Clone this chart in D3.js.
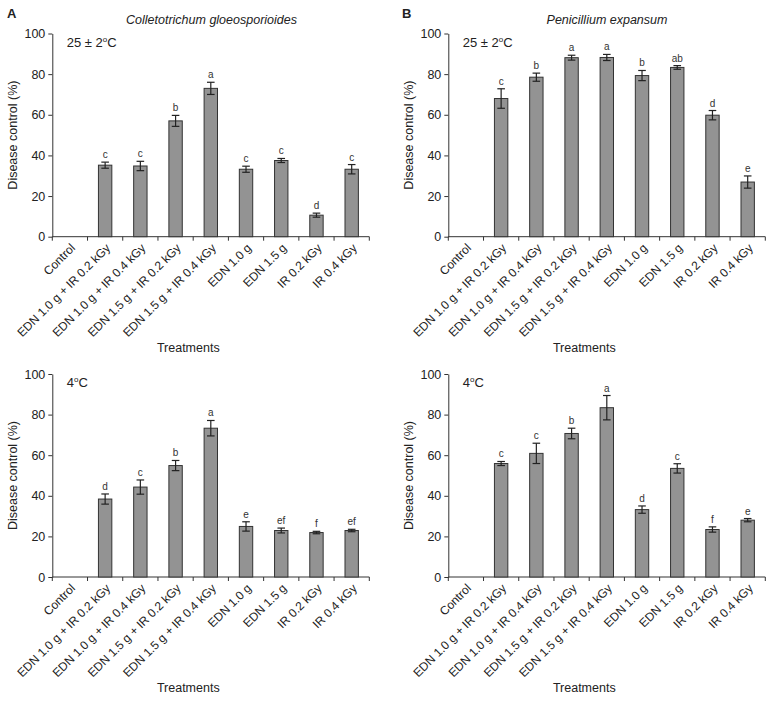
<!DOCTYPE html>
<html><head><meta charset="utf-8">
<script src="https://cdn.jsdelivr.net/npm/d3@7"></script>
<style>
body{margin:0;background:#fff;}
svg{display:block;font-family:"Liberation Sans",Arial,Helvetica,sans-serif;}
</style></head>
<body>
<svg id="chart" width="772" height="701"></svg>
<script>
const categories = ["Control","EDN 1.0 g + IR 0.2 kGy","EDN 1.0 g + IR 0.4 kGy","EDN 1.5 g + IR 0.2 kGy","EDN 1.5 g + IR 0.4 kGy","EDN 1.0 g","EDN 1.5 g","IR 0.2 kGy","IR 0.4 kGy"];
const yTicks = [0,20,40,60,80,100];

const colleto25 = [0,35.2,34.8,57.0,73.0,33.2,37.5,10.6,33.2];
const colleto25Err = [0,1.5,2.3,2.7,3.0,1.5,1.0,1.0,2.3];
const colleto25Letters = ["","c","c","b","a","c","c","d","c"];

const penic25 = [0,68.0,78.5,88.1,88.2,79.3,83.3,59.8,26.9];
const penic25Err = [0,4.8,2.0,1.2,1.5,2.5,0.9,2.3,3.0];
const penic25Letters = ["","c","b","a","a","b","ab","d","e"];

const colleto4 = [0,38.4,44.3,54.9,73.3,24.9,22.9,21.9,22.9];
const colleto4Err = [0,2.5,3.5,2.5,3.8,2.3,1.2,0.6,0.6];
const colleto4Letters = ["","d","c","b","a","e","ef","f","ef"];

const penic4 = [0,55.9,60.9,70.7,83.4,33.2,53.5,23.4,28.0];
const penic4Err = [0,1.0,5.0,2.6,6.0,1.8,2.3,1.3,0.8];
const penic4Letters = ["","c","c","b","a","d","c","f","e"];

const svg = d3.select("#chart");

function panel(opts){
  const {x0, yTop, yBottom, values, errs, letters, temp} = opts;
  const g = svg.append("g");
  const x = d3.scaleBand().domain(categories).range([x0, x0 + 317])
    .paddingInner(0.62).paddingOuter(0.31);
  const y = d3.scaleLinear().domain([0,100]).range([yBottom, yTop]);

  // y axis
  const yAxis = g.append("g").attr("transform", `translate(${x0},0)`)
    .call(d3.axisLeft(y).tickValues(yTicks).tickSize(4).tickPadding(3).tickSizeOuter(0));
  yAxis.select(".domain").attr("stroke","#333");
  yAxis.selectAll(".tick line").attr("stroke","#333");
  yAxis.selectAll(".tick text").attr("font-size", 12.5).attr("fill","#222")
    .attr("font-family","Liberation Sans, Arial, sans-serif");

  // x axis line + boundary ticks
  g.append("line").attr("x1", x0).attr("x2", x0 + 317).attr("y1", yBottom).attr("y2", yBottom)
    .attr("stroke","#333");
  const bounds = d3.range(categories.length + 1).map(i => x0 + i * x.step());
  g.selectAll(".xt").data(bounds).join("line")
    .attr("x1", d => d).attr("x2", d => d).attr("y1", yBottom).attr("y2", yBottom + 4)
    .attr("stroke","#333");
  g.selectAll(".xl").data(categories).join("text")
    .attr("transform", d => `translate(${x(d) + x.bandwidth()/2 + 3},${yBottom + 9}) rotate(-45)`)
    .attr("text-anchor","end").attr("dy","0.35em")
    .attr("font-size", 12).attr("fill","#222").text(d => d);

  const data = categories.map((c,i) => ({c, v: values[i], e: errs[i], l: letters[i]})).filter(d => d.v > 0);
  // bars
  g.selectAll(".bar").data(data).join("rect")
    .attr("x", d => x(d.c)).attr("width", x.bandwidth())
    .attr("y", d => y(d.v)).attr("height", d => y(0) - y(d.v))
    .attr("fill","#939393").attr("stroke","#333").attr("stroke-width",1);
  // error bars
  const cap = 3.8;
  const eg = g.selectAll(".err").data(data).join("g");
  eg.append("line").attr("x1", d => x(d.c) + x.bandwidth()/2).attr("x2", d => x(d.c) + x.bandwidth()/2)
    .attr("y1", d => y(d.v + d.e)).attr("y2", d => y(d.v - d.e)).attr("stroke","#222").attr("stroke-width",1.2);
  eg.append("line").attr("x1", d => x(d.c) + x.bandwidth()/2 - cap).attr("x2", d => x(d.c) + x.bandwidth()/2 + cap)
    .attr("y1", d => y(d.v + d.e)).attr("y2", d => y(d.v + d.e)).attr("stroke","#222").attr("stroke-width",1.2);
  eg.append("line").attr("x1", d => x(d.c) + x.bandwidth()/2 - cap).attr("x2", d => x(d.c) + x.bandwidth()/2 + cap)
    .attr("y1", d => y(d.v - d.e)).attr("y2", d => y(d.v - d.e)).attr("stroke","#222").attr("stroke-width",1.2);
  // letters
  g.selectAll(".let").data(data).join("text")
    .attr("x", d => x(d.c) + x.bandwidth()/2).attr("y", d => y(d.v + d.e) - 4)
    .attr("text-anchor","middle").attr("font-size", 10).attr("fill","#333").text(d => d.l);

  // y label
  g.append("text").attr("transform", `translate(${x0 - 35},${(yTop + yBottom)/2}) rotate(-90)`)
    .attr("text-anchor","middle").attr("font-size", 12.5).attr("fill","#222").text("Disease control (%)");
  // temperature label
  const t = g.append("text").attr("x", x0 + 14.5).attr("y", yTop + 13).attr("font-size", 13).attr("fill","#222");
  t.append("tspan").text(temp);
  t.append("tspan").attr("font-size", 8).attr("dy", -5).text("o");
  t.append("tspan").attr("dy", 5).text("C");
  // x label
  g.append("text").attr("x", x0 + 136).attr("y", yBottom + 115).attr("text-anchor","middle")
    .attr("font-size", 12.5).attr("fill","#222").text("Treatments");
}

panel({x0: 52.3, yTop: 33.5, yBottom: 236.7, values: colleto25, errs: colleto25Err, letters: colleto25Letters, temp: "25 ± 2"});
panel({x0: 448.3, yTop: 33.5, yBottom: 236.7, values: penic25, errs: penic25Err, letters: penic25Letters, temp: "25 ± 2"});
panel({x0: 52.3, yTop: 374, yBottom: 577, values: colleto4, errs: colleto4Err, letters: colleto4Letters, temp: "4"});
panel({x0: 448.3, yTop: 374, yBottom: 577, values: penic4, errs: penic4Err, letters: penic4Letters, temp: "4"});

// panel letters and titles
svg.append("text").attr("x", 7).attr("y", 17.5).attr("font-size", 13).attr("font-weight","bold").attr("fill","#222").text("A");
svg.append("text").attr("x", 402).attr("y", 17.5).attr("font-size", 13).attr("font-weight","bold").attr("fill","#222").text("B");
svg.append("text").attr("x", 211.5).attr("y", 24).attr("text-anchor","middle").attr("font-size", 12.5)
  .attr("font-style","italic").attr("fill","#222").text("Colletotrichum gloeosporioides");
svg.append("text").attr("x", 607).attr("y", 24).attr("text-anchor","middle").attr("font-size", 12.5)
  .attr("font-style","italic").attr("fill","#222").text("Penicillium expansum");
</script>
</body></html>
